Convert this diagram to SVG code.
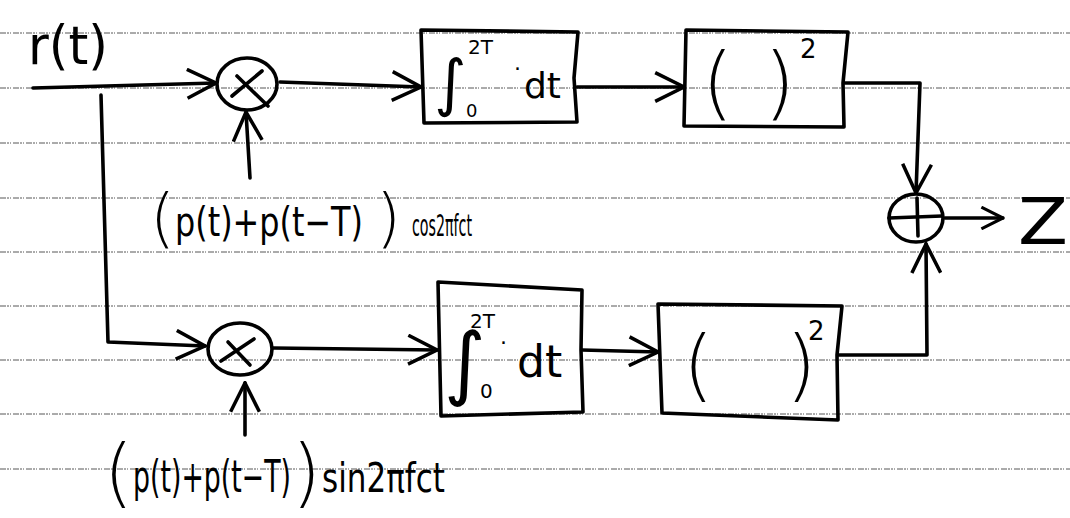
<svg xmlns="http://www.w3.org/2000/svg" width="1070" height="518" viewBox="0 0 1070 518">
  <defs>
    <style>
      .rule { stroke: #3a3a3a; stroke-width: 1; stroke-dasharray: 6 1 2 1 1 2; opacity: 0.85; }
      .ink { fill: none; stroke: #000; stroke-width: 3.6; stroke-linecap: round; stroke-linejoin: round; }
      .txt { font-family: "DejaVu Sans", "Liberation Sans", sans-serif; fill: #000; }
      .paren { font-family: "DejaVu Sans", "Liberation Sans", sans-serif; font-weight: 300; fill: #000; }
    </style>
    <marker id="arr" viewBox="0 0 20 20" refX="19" refY="10" markerWidth="32" markerHeight="32" markerUnits="userSpaceOnUse" orient="auto">
      <path d="M1,1 L19,10 L1,19" fill="none" stroke="#000" stroke-width="2.2" stroke-linejoin="miter"/>
    </marker>
    <marker id="arrSmall" viewBox="0 0 20 20" refX="19" refY="10" markerWidth="24" markerHeight="24" markerUnits="userSpaceOnUse" orient="auto">
      <path d="M1,1 L19,10 L1,19" fill="none" stroke="#000" stroke-width="2.6"/>
    </marker>
  </defs>

  <rect width="1070" height="518" fill="#fff"/>

  <!-- ruled paper lines -->
  <g id="paper">
    <line class="rule" x1="0" y1="33" x2="1070" y2="33"/>
    <line class="rule" x1="0" y1="88" x2="1070" y2="88"/>
    <line class="rule" x1="0" y1="143" x2="1070" y2="143"/>
    <line class="rule" x1="0" y1="198" x2="1070" y2="198"/>
    <line class="rule" x1="0" y1="252" x2="1070" y2="252"/>
    <line class="rule" x1="0" y1="306" x2="1070" y2="306"/>
    <line class="rule" x1="0" y1="360" x2="1070" y2="360"/>
    <line class="rule" x1="0" y1="414" x2="1070" y2="414"/>
    <line class="rule" x1="0" y1="469" x2="1070" y2="469"/>
  </g>

  <!-- signal paths -->
  <g id="connectors">
    <path class="ink" d="M33,88 L216,83" marker-end="url(#arr)"/>
    <path class="ink" d="M101,95 L108,342 L205,346" marker-end="url(#arr)"/>
    <path class="ink" d="M250,178 L246,112" marker-end="url(#arr)"/>
    <path class="ink" d="M280,82 L421,87" marker-end="url(#arr)"/>
    <path class="ink" d="M577,87 L684,87" marker-end="url(#arr)"/>
    <path class="ink" d="M845,83 L920,83 L916,193" marker-end="url(#arr)"/>
    <path class="ink" d="M273,348 L437,350" marker-end="url(#arr)"/>
    <path class="ink" d="M582,350 L658,352" marker-end="url(#arr)"/>
    <path class="ink" d="M838,355 L927,355 L926,244" marker-end="url(#arr)"/>
    <path class="ink" d="M245,435 L245,383" marker-end="url(#arr)"/>
    <path class="ink" d="M945,218 L1003,218" marker-end="url(#arrSmall)"/>
  </g>

  <!-- input signal label -->
  <g id="input-label">
    <text class="txt" x="28" y="64" font-size="54" textLength="80" lengthAdjust="spacingAndGlyphs">r(t)</text>
  </g>

  <!-- upper multiplier -->
  <g id="mult-upper">
    <ellipse class="ink" cx="247" cy="84" rx="30" ry="26"/>
    <line class="ink" x1="232" y1="96" x2="262" y2="71"/>
    <line class="ink" x1="237" y1="76" x2="268" y2="106"/>
  </g>

  <!-- lower multiplier -->
  <g id="mult-lower">
    <ellipse class="ink" cx="240" cy="349" rx="32" ry="26"/>
    <line class="ink" x1="221" y1="361" x2="254" y2="339"/>
    <line class="ink" x1="228" y1="342" x2="250" y2="365"/>
  </g>

  <!-- upper integrator -->
  <g id="int-upper">
    <path class="ink" d="M421,30 L578,32 L574,78 L577,122 L424,123 Z"/>
    <text class="txt" x="434" y="104" font-size="62">∫</text>
    <text class="txt" x="468" y="54" font-size="20">2T</text>
    <text class="txt" x="466" y="117" font-size="18">0</text>
    <text class="txt" x="514" y="76" font-size="22">·</text>
    <text class="txt" x="524" y="98" font-size="36">dt</text>
  </g>

  <!-- lower integrator -->
  <g id="int-lower">
    <path class="ink" d="M438,282 L582,290 L581,350 L583,412 L441,416 Z"/>
    <text class="txt" x="444" y="390" font-size="80">∫</text>
    <text class="txt" x="470" y="328" font-size="20">2T</text>
    <text class="txt" x="480" y="398" font-size="20">0</text>
    <text class="txt" x="500" y="350" font-size="22">·</text>
    <text class="txt" x="517" y="377" font-size="44">dt</text>
  </g>

  <!-- upper squarer -->
  <g id="sq-upper">
    <path class="ink" d="M686,30 L848,32 L843,83 L844,127 L684,126 Z"/>
    <text class="paren" x="702" y="110" font-size="80">(</text>
    <text class="paren" x="764" y="110" font-size="80">)</text>
    <text class="txt" x="800" y="58" font-size="26">2</text>
  </g>

  <!-- lower squarer -->
  <g id="sq-lower">
    <path class="ink" d="M658,304 L842,306 L837,355 L838,420 L662,413 Z"/>
    <text class="paren" x="683" y="392" font-size="78">(</text>
    <text class="paren" x="786" y="392" font-size="78">)</text>
    <text class="txt" x="808" y="340" font-size="26">2</text>
  </g>

  <!-- summing junction -->
  <g id="sum">
    <ellipse class="ink" cx="916" cy="218" rx="27" ry="24"/>
    <line class="ink" x1="889" y1="218" x2="942" y2="216"/>
    <line class="ink" x1="917" y1="198" x2="918" y2="236"/>
  </g>

  <!-- output label -->
  <g id="output-label">
    <text class="txt" x="1018" y="244" font-size="64" textLength="50" lengthAdjust="spacingAndGlyphs">Z</text>
  </g>

  <!-- carrier for the upper branch -->
  <g id="carrier-cos">
    <text class="paren" x="150" y="240" font-size="64">(</text>
    <text class="txt" x="175" y="236" font-size="40" textLength="188" lengthAdjust="spacingAndGlyphs">p(t)+p(t−T)</text>
    <text class="paren" x="376" y="240" font-size="64">)</text>
    <text class="txt" x="412" y="236" font-size="30" textLength="60" lengthAdjust="spacingAndGlyphs">cos2πfct</text>
  </g>

  <!-- carrier for the lower branch -->
  <g id="carrier-sin">
    <text class="paren" x="104" y="498" font-size="74">(</text>
    <text class="txt" x="133" y="492" font-size="44" textLength="158" lengthAdjust="spacingAndGlyphs">p(t)+p(t−T)</text>
    <text class="paren" x="292" y="498" font-size="74">)</text>
    <text class="txt" x="322" y="492" font-size="40" textLength="123" lengthAdjust="spacingAndGlyphs">sin2πfct</text>
  </g>
</svg>
